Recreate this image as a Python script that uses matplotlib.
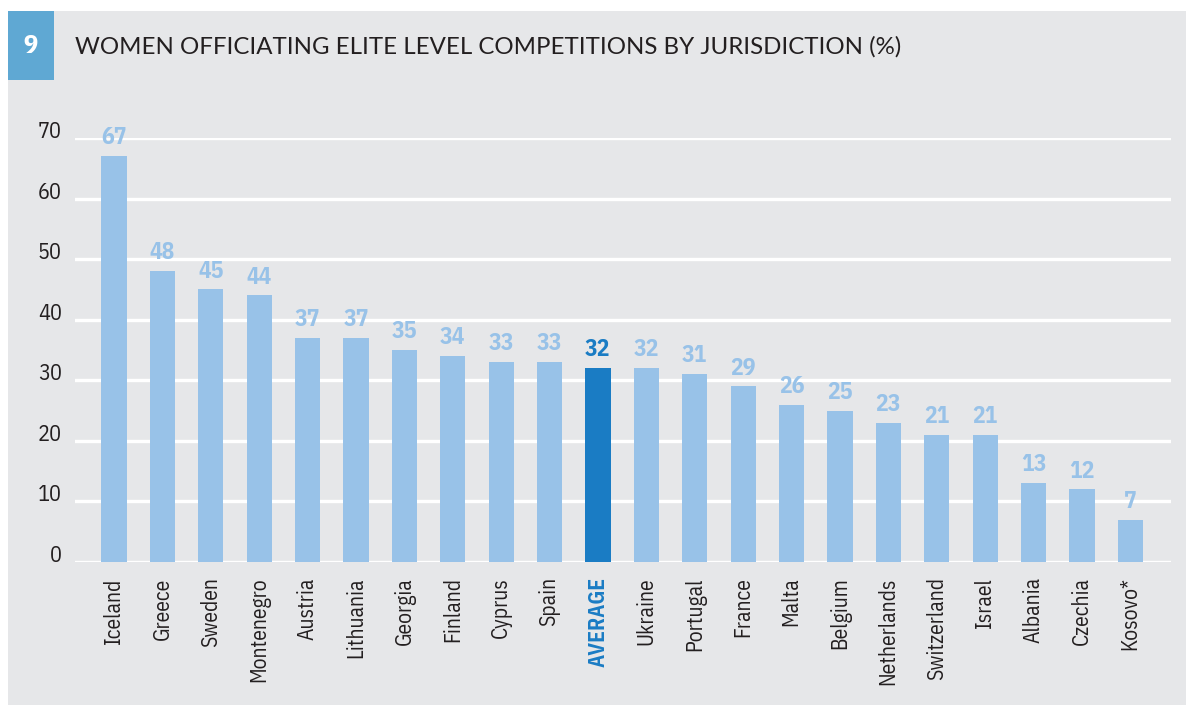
import matplotlib
matplotlib.use("Agg")
import matplotlib.pyplot as plt
from matplotlib.patches import Rectangle

categories = ["Iceland", "Greece", "Sweden", "Montenegro", "Austria", "Lithuania",
              "Georgia", "Finland", "Cyprus", "Spain", "AVERAGE", "Ukraine",
              "Portugal", "France", "Malta", "Belgium", "Netherlands",
              "Switzerland", "Israel", "Albania", "Czechia", "Kosovo*"]
values = [67, 48, 45, 44, 37, 37, 35, 34, 33, 33, 32, 32, 31, 29, 26, 25, 23,
          21, 21, 13, 12, 7]
yticks = [0, 10, 20, 30, 40, 50, 60, 70]
title = "WOMEN OFFICIATING ELITE LEVEL COMPETITIONS BY JURISDICTION (%)"
highlight = "AVERAGE"

BG = "#e6e7e9"
LIGHT = "#98c2e8"
DARK = "#1a7cc4"
BOX = "#5fa8d3"
TXT = "#231f20"
NARROW = ["IBM Plex Sans Condensed", "DejaVu Sans"]
TITLEF = ["Lato", "Open Sans", "DejaVu Sans"]

W, H = 1194, 709
fig = plt.figure(figsize=(W / 100, H / 100), dpi=100)
fig.patch.set_facecolor("white")
fig.add_artist(Rectangle((8 / W, 1 - 705 / H), (1186 - 8) / W, (705 - 11) / H,
                         transform=fig.transFigure, facecolor=BG, edgecolor="none", zorder=0))
fig.add_artist(Rectangle((8 / W, 1 - 80 / H), (54 - 8) / W, (80 - 11) / H,
                         transform=fig.transFigure, facecolor=BOX, edgecolor="none", zorder=1))
fig.text(31 / W, 1 - 46 / H, "9", color="white", fontsize=19, fontweight="bold",
         family=NARROW, ha="center", va="center")
t = fig.text(75 / W, 1 - 47 / H, title, color=TXT, fontsize=18,
             family=TITLEF, ha="left", va="center")
fig.canvas.draw()
bb = t.get_window_extent()
t.set_fontsize(18 * (893 - 75) / bb.width)

ax = fig.add_axes([75 / W, 1 - 562 / H, (1171 - 75) / W, (562 - 138) / H])
ax.set_facecolor("none")
x = list(range(len(categories)))
colors = [DARK if c == highlight else LIGHT for c in categories]
ax.bar(x, values, width=0.52, color=colors, zorder=3)
for xi, v, c in zip(x, values, colors):
    ax.annotate(str(v), (xi, v), xytext=(0, 8.5), textcoords="offset points",
                ha="center", va="baseline", color=c, fontsize=17,
                fontweight="bold", family=NARROW, annotation_clip=False)

ax.set_xlim(-0.806, 21.84)
ax.set_ylim(0, 70)
ax.set_yticks(yticks)
ax.set_yticklabels([str(v) for v in yticks], family=NARROW, fontsize=16, color=TXT)
for lab in ax.get_yticklabels():
    lab.set_va("baseline")
ax.set_xticks(x)
ax.set_xticklabels(categories, rotation=90, family=NARROW, fontsize=15.5, color=TXT)
for lab, cat in zip(ax.get_xticklabels(), categories):
    if cat == highlight:
        lab.set_color(DARK)
        lab.set_fontweight("bold")
ax.tick_params(axis="both", length=0)
ax.tick_params(axis="y", pad=9.5)
ax.tick_params(axis="x", pad=11)
for s in ax.spines.values():
    s.set_visible(False)
ax.grid(axis="y", color="white", linewidth=2.4, zorder=1)
ax.set_axisbelow(True)

fig.savefig("out.png", dpi=100, facecolor=fig.get_facecolor())
